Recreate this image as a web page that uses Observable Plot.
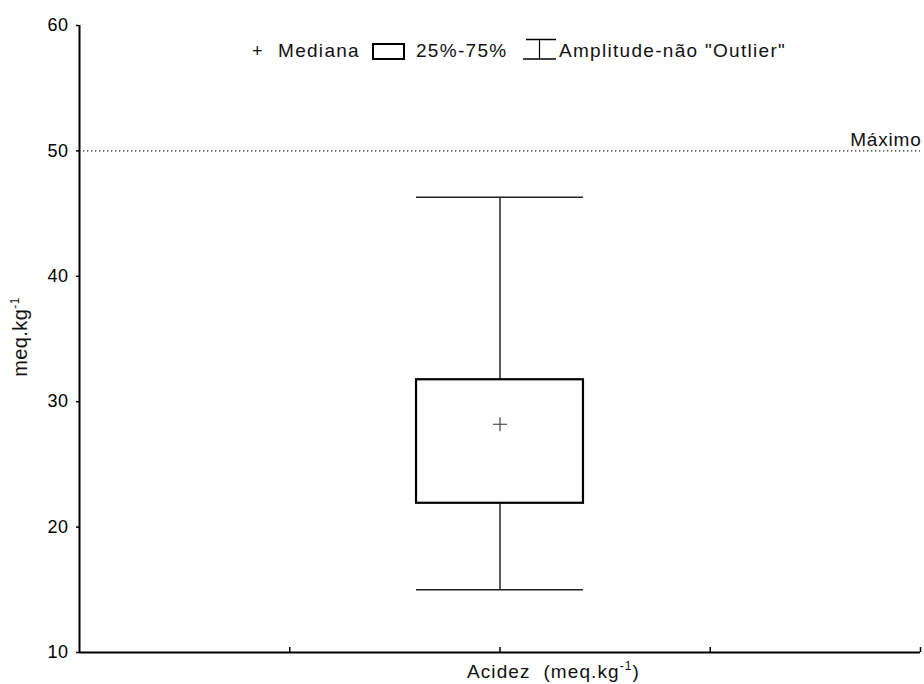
<!DOCTYPE html>
<html><head><meta charset="utf-8">
<script src="https://cdn.jsdelivr.net/npm/d3@7"></script>
<script src="https://cdn.jsdelivr.net/npm/@observablehq/plot@0.6"></script>
<style>
body{margin:0;background:#fff;font-family:"Liberation Sans",Arial,sans-serif;}
#wrap{position:relative;width:924px;height:684px;}
#legend{position:absolute;left:0;top:0;z-index:2;pointer-events:none;}
#legend text{font-family:"Liberation Sans",Arial,sans-serif;font-size:19px;letter-spacing:1.3px;fill:#111;}
</style></head><body>
<div id="wrap">
<svg id="legend" width="924" height="80">
  <text x="252" y="57" style="font-size:18px;letter-spacing:0;font-weight:300">+</text>
  <text x="278" y="57">Mediana</text>
  <rect x="373" y="44" width="31" height="15" fill="none" stroke="#000" stroke-width="2"/>
  <text x="416" y="57">25%-75%</text>
  <line x1="526" x2="556" y1="39.5" y2="39.5" stroke="#000" stroke-width="1.5"/>
  <line x1="523" x2="556" y1="59" y2="59" stroke="#000" stroke-width="1.5"/>
  <line x1="539.5" x2="539.5" y1="39.5" y2="59" stroke="#000" stroke-width="1.2"/>
  <text x="559" y="57">Amplitude-não "Outlier"</text>
</svg>
</div>
<script>
const categories = ["Acidez"];
const positions = [2];
const whiskerLow = [15.0];
const q1 = [21.9];
const median = [28.2];
const q3 = [31.75];
const whiskerHigh = [46.3];
const maxLimit = [50];
const maxLabel = ["Máximo"];
const yTicks = [10, 20, 30, 40, 50, 60];
const xTicks = [1, 2, 3, 4];

const data = categories.map((c, i) => ({
  cat: c, x: positions[i], lo: whiskerLow[i], q1: q1[i], med: median[i], q3: q3[i], hi: whiskerHigh[i]
}));
const limits = maxLimit.map((v, i) => ({v, label: maxLabel[i]}));
const half = 0.397;

const chart = Plot.plot({
  width: 924, height: 684,
  marginLeft: 79, marginRight: 4, marginTop: 25, marginBottom: 32,
  style: {fontFamily: "'Liberation Sans', Arial, sans-serif", fontSize: "18px", background: "#fff", color: "#000"},
  x: {domain: [0, 4], axis: null},
  y: {domain: [10, 60], axis: null},
  marks: [
    Plot.ruleY(limits, {y: "v", stroke: "#222", strokeWidth: 1.3, strokeDasharray: "1.3,2.7"}),
    Plot.text(limits, {y: "v", text: "label", frameAnchor: "right", textAnchor: "end", dy: -11, dx: 1, fontSize: 19, fill: "#111"}),
    Plot.ruleX(data, {x: "x", y1: "lo", y2: "q1", stroke: "#333", strokeWidth: 1.6}),
    Plot.ruleX(data, {x: "x", y1: "q3", y2: "hi", stroke: "#333", strokeWidth: 1.6}),
    Plot.ruleY(data, {y: "lo", x1: d => d.x - half, x2: d => d.x + half, stroke: "#222", strokeWidth: 1.6}),
    Plot.ruleY(data, {y: "hi", x1: d => d.x - half, x2: d => d.x + half, stroke: "#222", strokeWidth: 1.6}),
    Plot.rect(data, {x1: d => d.x - half, x2: d => d.x + half, y1: "q1", y2: "q3", fill: "#fff", stroke: "#000", strokeWidth: 2.2}),
    Plot.dot(data, {x: "x", y: "med", symbol: "plus", r: 4.6, stroke: "#333", strokeWidth: 1.1}),
    Plot.axisY(yTicks, {anchor: "left", tickSize: 3, tickPadding: 8, label: null, fontSize: 18, stroke: "#000", strokeWidth: 1.5}),
    Plot.axisX(xTicks, {anchor: "bottom", tickSize: -5, tickFormat: () => "", label: null, stroke: "#000", strokeWidth: 1.5}),
    Plot.ruleX([0], {stroke: "#000", strokeWidth: 2}),
    Plot.ruleY([10], {stroke: "#000", strokeWidth: 2})
  ]
});

const svg = d3.select(chart);
svg.selectAll("text").filter(function() { return maxLabel.includes(this.textContent); })
  .style("letter-spacing", "0.8px");
svg.selectAll("g[aria-label='y-axis tick label'] text").style("letter-spacing", "0.5px");

const xl = svg.append("text")
  .attr("x", 467).attr("y", 678)
  .attr("text-anchor", "start")
  .attr("font-size", 19)
  .attr("fill", "#111")
  .style("letter-spacing", "1.1px");
xl.append("tspan").text("Acidez\u00a0\u00a0(meq.kg");
xl.append("tspan").attr("font-size", 12).attr("dy", -8).text("-1");
xl.append("tspan").attr("dy", 8).text(")");

const yl = svg.append("text")
  .attr("transform", "translate(27,337) rotate(-90)")
  .attr("text-anchor", "middle")
  .attr("font-size", 20)
  .attr("fill", "#111")
  .style("letter-spacing", "0.4px");
yl.append("tspan").text("meq.kg");
yl.append("tspan").attr("font-size", 12).attr("dy", -8).text("-1");

document.getElementById("wrap").appendChild(chart);
chart.style.position = "absolute";
chart.style.left = "0";
chart.style.top = "0";
</script>
</body></html>
